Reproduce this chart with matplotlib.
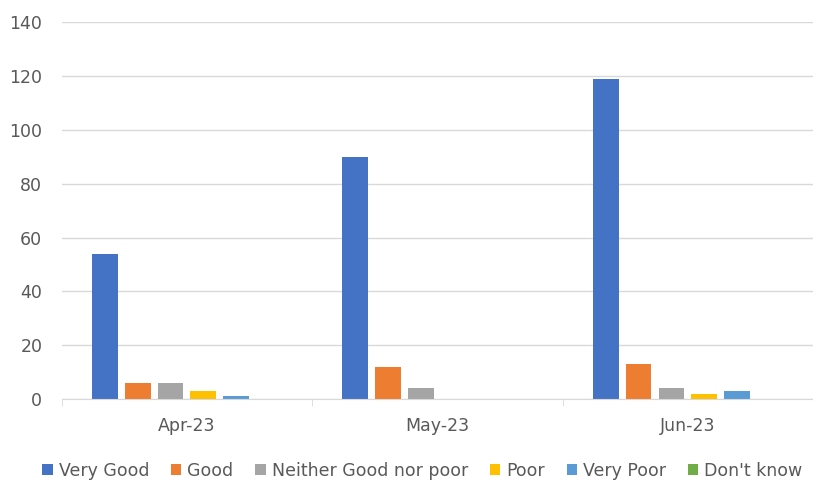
import matplotlib.pyplot as plt
import numpy as np

months = ["Apr-23", "May-23", "Jun-23"]
series = ["Very Good", "Good", "Neither Good nor poor", "Poor", "Very Poor", "Don't know"]
very_good = [54, 90, 119]
good = [6, 12, 13]
neither = [6, 4, 4]
poor = [3, 0, 2]
very_poor = [1, 0, 3]
dont_know = [0, 0, 0]
colors = ["#4472C4", "#ED7D31", "#A5A5A5", "#FFC000", "#5B9BD5", "#70AD47"]

values = [very_good, good, neither, poor, very_poor, dont_know]

fig = plt.figure(figsize=(8.13, 4.82), dpi=100)
ax = fig.add_axes([0.076, 0.172, 0.924, 0.782])

x = np.arange(len(months))
step = 0.131
width = 0.103
for i, (name, vals, c) in enumerate(zip(series, values, colors)):
    ax.bar(x + (i - 2.5) * step, vals, width, color=c, label=name, zorder=3)

ax.set_xlim(-0.5, 2.5)
ax.set_ylim(0, 140)
ax.set_yticks(range(0, 141, 20))
ax.grid(axis="y", color="#d9d9d9", linewidth=1, zorder=0)
for s in ["top", "right", "left"]:
    ax.spines[s].set_visible(False)
ax.spines["bottom"].set_color("#d9d9d9")
ax.spines["bottom"].set_zorder(4)

ax.set_xticks(x)
ax.set_xticklabels(months)
ax.set_xticks([-0.5, 0.5, 1.5, 2.5], minor=True)
ax.tick_params(axis="x", which="major", length=0, pad=13, labelsize=12.5, labelcolor="#595959")
ax.tick_params(axis="x", which="minor", length=5, color="#d9d9d9")
ax.tick_params(axis="y", length=0, pad=14, labelsize=12.5, labelcolor="#595959")

ax.legend(loc="upper center", bbox_to_anchor=(0.48, -0.125), ncol=6, frameon=False,
          fontsize=12.5, labelcolor="#595959", handlelength=0.6, handleheight=0.6,
          handletextpad=0.35, columnspacing=1.25)

plt.savefig("out.png", dpi=100)
